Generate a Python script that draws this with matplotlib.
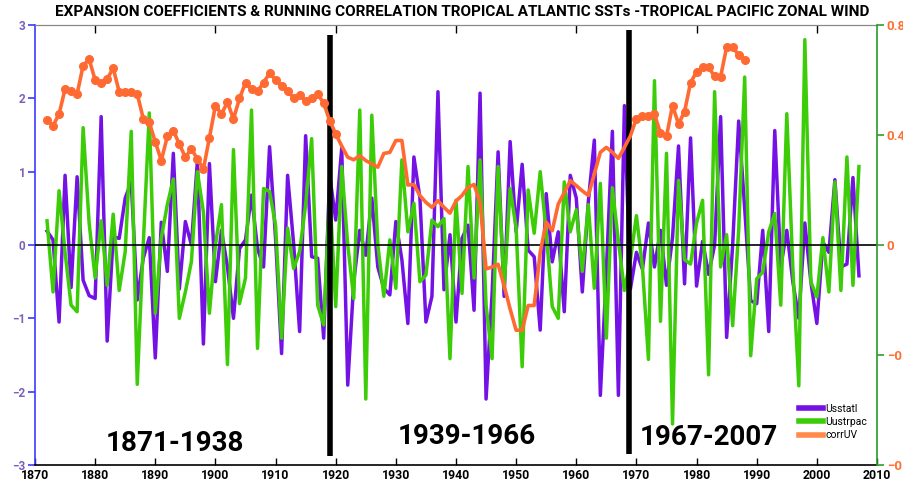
import matplotlib
matplotlib.use("Agg")
import matplotlib.pyplot as plt
import numpy as np
from matplotlib.lines import Line2D

COND = ['Roboto', 'DejaVu Sans']

years = list(range(1872, 2008))
usstatl = [0.19, 0.07, -1.05, 0.95, -0.58, 0.93, -0.48, -0.69, -0.73, 1.75,
           -1.31, 0.11, 0.09, 0.64, 0.86, -0.75, -0.18, 0.1, -1.54, 0.31,
           -0.36, 1.25, -0.6, 0.32, 0.0, 1.14, -1.35, 1.11, -0.5, 0.2,
           -0.3, -1.0, -0.05, 0.07, 0.68, -0.05, -0.3, 1.34, 0.09, -1.48,
           0.95, 0.02, -1.18, 1.49, -0.16, -0.18, -1.27, 0.95, 0.34, 1.32,
           -1.91, -0.5, 0.2, -0.14, 0.64, -0.3, -0.59, -0.68, 0.32, -0.2,
           -1.07, 1.2, 0.64, -1.05, -0.7, 2.09, -0.61, 0.14, -1.05, 0.09,
           0.27, -0.89, 2.07, -2.1, -0.66, 1.27, -0.7, 1.41, 0.18, 1.1,
           -0.07, -0.16, -1.16, 0.7, -0.23, 0.18, -0.91, 0.95, 0.64, -0.64,
           0.59, 1.43, -2.05, -0.36, 1.55, -2.05, 1.9, -0.6, -0.1, -0.33,
           0.3, -0.3, 0.2, -0.55, 0.1, 1.35, -0.53, 1.46, -0.56, 0.05,
           -0.4, 0.0, 1.75, -1.26, 0.0, 1.69, 0.5, -0.76, -0.8, 0.2,
           -1.18, 1.56, -0.3, 0.2, -0.5, -1.0, 0.3, -0.5, -1.07, 0.04,
           -0.1, 0.89, -0.3, -0.26, 0.92, -0.42]
uustrpac = [0.33, -0.64, 0.74, -0.1, -0.82, -0.91, 1.6, 0.3, -0.45, 0.33,
            -0.55, 0.42, -0.62, -0.09, 1.55, -1.9, 0.0, 1.8, -0.93, 0.1,
            0.55, 0.9, -1.0, -0.64, -0.23, 1.0, 0.45, -0.93, 0.0, 0.55,
            -1.63, 1.3, -0.8, -0.45, 1.84, -1.41, 0.77, 0.73, 0.27, -1.27,
            0.23, -0.32, -0.09, 0.55, 1.45, -0.82, -1.09, 0.73, -0.84, 1.07,
            0.0, -0.73, 1.84, -2.1, 1.77, 0.0, -0.7, 0.07, -0.59, 1.16,
            0.18, 0.57, -0.5, -0.41, 0.34, 0.25, 0.36, -1.55, 0.61, -0.66,
            1.07, -0.45, 1.16, -0.82, -1.55, 1.07, -0.59, 0.77, 0.23, -1.66,
            0.75, 0.16, 1.0, 0.18, -0.84, -1.0, 0.86, 0.18, 0.48, -0.36,
            0.55, -0.59, 0.84, -1.27, 0.78, 0.05, -0.62, -0.2, 0.4, -0.3,
            -1.56, 2.24, -1.04, 1.25, -2.44, 0.88, -0.2, -0.26, 0.3, 0.61,
            -1.77, 2.09, -0.3, 0.14, -1.1, 0.2, 2.29, -1.51, -0.46, -0.37,
            0.18, 0.43, -0.82, 1.79, -0.3, -1.92, 2.8, -0.5, -0.71, 0.1,
            -0.64, 0.86, -0.62, 1.2, -0.55, 1.07]

corr_years = list(range(1872, 1989))
corr_uv = [0.455, 0.434, 0.476, 0.567, 0.559, 0.549, 0.652, 0.676, 0.60, 0.59,
           0.604, 0.643, 0.557, 0.557, 0.557, 0.549, 0.46, 0.446, 0.375, 0.307,
           0.395, 0.416, 0.367, 0.319, 0.349, 0.313, 0.276, 0.39, 0.507, 0.476,
           0.519, 0.458, 0.533, 0.59, 0.567, 0.56, 0.59, 0.625, 0.60, 0.58,
           0.56, 0.535, 0.545, 0.525, 0.533, 0.549, 0.516, 0.452, 0.404, 0.36,
           0.319, 0.31, 0.325, 0.307, 0.295, 0.283, 0.333, 0.337, 0.38, 0.38,
           0.218, 0.22, 0.18, 0.155, 0.137, 0.161, 0.137, 0.116, 0.16, 0.18,
           0.21, 0.22, 0.155, -0.087, -0.08, -0.07, -0.148, -0.233, -0.31, -0.31,
           -0.22, -0.22, -0.027, 0.083, 0.052, 0.149, 0.19, 0.234, 0.216, 0.197,
           0.18, 0.258, 0.337, 0.355, 0.337, 0.315, 0.355, 0.397, 0.46, 0.47,
           0.468, 0.476, 0.406, 0.395, 0.507, 0.44, 0.485, 0.59, 0.63, 0.646,
           0.646, 0.613, 0.612, 0.72, 0.72, 0.69, 0.674]
marker_periods = [(1872, 1920), (1970, 1988)]

period_labels = ['1871-1938', '1939-1966', '1967-2007']
period_label_x = [1893.2, 1941.8, 1982.1]
period_label_y = [-2.71, -2.61, -2.63]
divider_years = [1919.1, 1968.8]
divider_spans = [(-2.88, 2.87), (-2.85, 2.93)]

title = 'EXPANSION COEFFICIENTS & RUNNING CORRELATION TROPICAL ATLANTIC SSTs -TROPICAL PACIFIC ZONAL WIND'

PURPLE = '#7412e6'
GREEN = '#3dcc08'
ORANGE = '#ff6a33'
ORANGE_LEG = '#ff8a4a'

fig = plt.figure(figsize=(9.04, 4.83), dpi=100)
ax = fig.add_axes([35/904, 1-465/483, (877-35)/904, (465-25)/483])
ax2 = ax.twinx()

ax.plot(years, usstatl, color=PURPLE, lw=2.5, zorder=3)
ax.plot(years, uustrpac, color=GREEN, lw=2.5, zorder=4)
ax.axhline(0, color='black', lw=1.2, zorder=5)
for yr, (lo, hi) in zip(divider_years, divider_spans):
    ax.plot([yr, yr], [lo, hi], color='black', lw=4.0, zorder=8, solid_capstyle='butt')

ax.set_xlim(1870, 2010)
ax.set_ylim(-3, 3)
ax.set_xticks(range(1870, 2011, 10))
ax.set_xticklabels([str(v) for v in range(1870, 2011, 10)], fontfamily=COND,
                   fontweight='bold', fontsize=8.8)
ax.set_yticks(range(-3, 4))
ax.set_yticklabels(['\u22123', '\u22122', '\u22121', '0', '1', '2', '3'], fontsize=8.5,
                   color='#7a62b8', fontweight='bold', fontfamily=COND)
ax.tick_params(axis='x', direction='in', length=5, width=1, pad=3, top=False)
ax.tick_params(axis='y', direction='out', length=5, width=1.2, color='#3a3aff', pad=2)
ax.spines['left'].set_color('#3a3aff')
ax.spines['left'].set_linewidth(1.2)
ax.spines['top'].set_color('#888888')
ax.spines['bottom'].set_color('black')
ax.spines['bottom'].set_linewidth(1.2)
ax.spines['right'].set_visible(False)

secx = ax.secondary_xaxis('top')
secx.set_xticks(range(1880, 2001, 20))
secx.set_xticklabels([])
secx.tick_params(direction='in', length=6, width=1, color='black')
secx.spines['top'].set_color('#888888')

ax2.plot(corr_years, corr_uv, color=ORANGE, lw=2.6, zorder=6)
cy = np.array(corr_years)
cv = np.array(corr_uv)
for a, b in marker_periods:
    m = (cy >= a) & (cy <= b)
    ax2.plot(cy[m], cv[m], ls='none', marker='o', ms=5.5, color=ORANGE, zorder=7)
ax2.set_ylim(-0.8, 0.8)
ax2.set_yticks([-0.8, -0.4, 0, 0.4, 0.8])
ax2.set_yticklabels(['\u22120.8', '\u22120.4', '0', '0.4', '0.8'], fontsize=9.5,
                    color='#ff7030', fontweight='bold', fontfamily=COND)
ax2.tick_params(axis='y', direction='out', length=5, width=1.2, color='#2ca02c', pad=2)
ax2.spines['right'].set_color('#2a9a2a')
ax2.spines['right'].set_linewidth(1.2)
ax2.spines['left'].set_visible(False)
ax2.spines['top'].set_visible(False)
ax2.spines['bottom'].set_visible(False)

period_texts = []
for lab, x, y in zip(period_labels, period_label_x, period_label_y):
    t = ax.text(x, y, lab, fontsize=21, fontweight='bold', fontfamily=COND,
                ha='center', va='center', zorder=9)
    period_texts.append(t)

title_text = fig.text(462/904, 1-12/483, title, fontsize=10.5, fontweight='bold',
                      fontfamily=COND, ha='center', va='center')

handles = [Line2D([], [], color=PURPLE, lw=4), Line2D([], [], color=GREEN, lw=4),
           Line2D([], [], color=ORANGE_LEG, lw=4)]
leg = ax.legend(handles, ['Usstatl', 'Uustrpac', 'corrUV'], loc='lower right',
                bbox_to_anchor=(1.0, 0.035), frameon=False,
                handlelength=2.3, handletextpad=0.3, labelspacing=0.3,
                prop={'family': COND, 'size': 7.5})
leg.set_zorder(10)

renderer = fig.canvas.get_renderer()
def fit(t, target_px):
    w = t.get_window_extent(renderer).width
    t.set_fontsize(t.get_fontsize() * target_px / w)
fit(title_text, 813)
for t in period_texts:
    fit(t, 138)

fig.savefig('out.png', dpi=100)
